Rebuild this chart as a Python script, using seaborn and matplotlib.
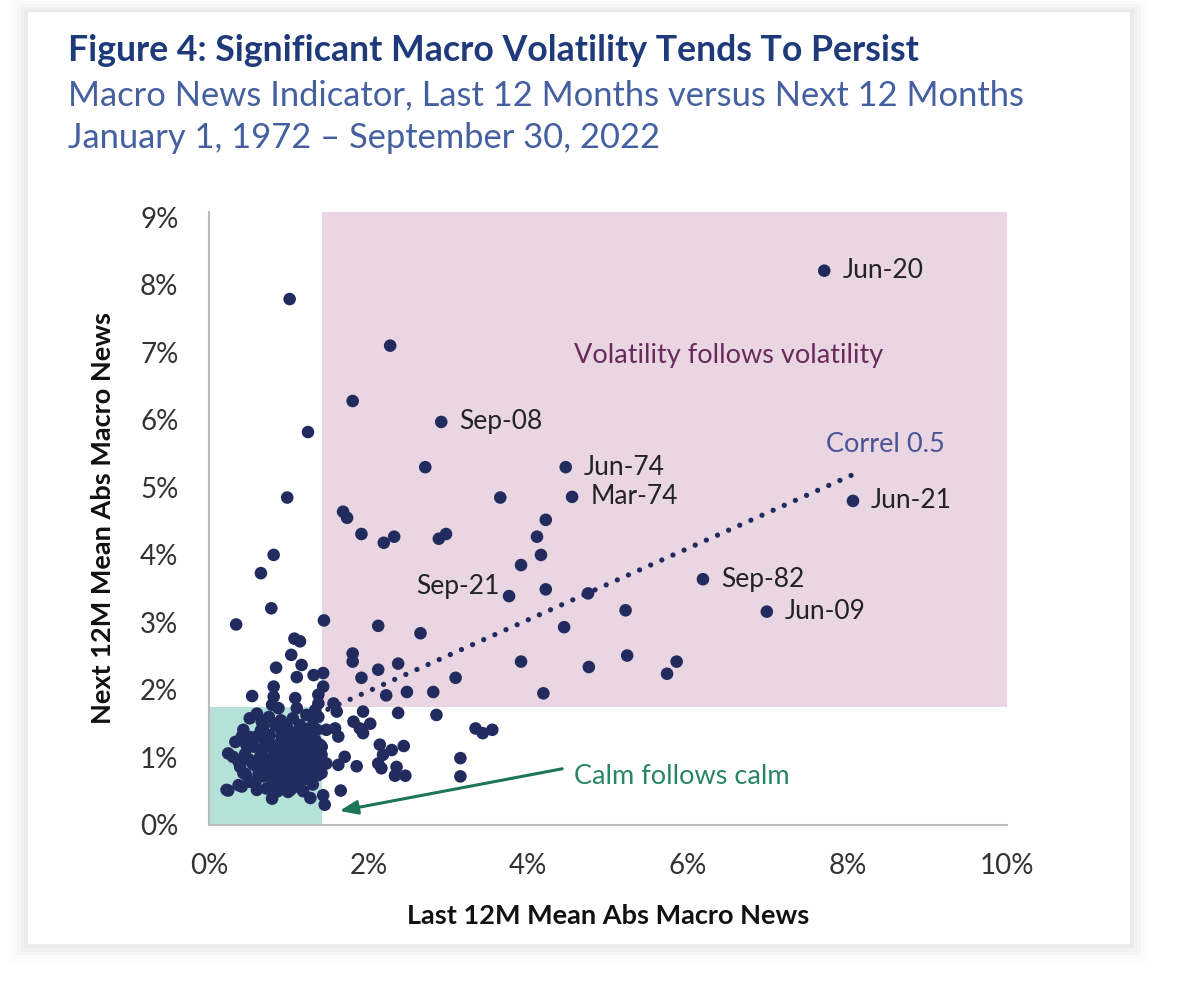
import matplotlib
matplotlib.use("Agg")
import matplotlib.pyplot as plt
import seaborn as sns
from matplotlib.patches import Rectangle, FancyBboxPatch

# last 12M vs next 12M mean abs macro news (%)
last_12m = [
    7.71, 2.91, 4.47, 4.55, 8.07, 6.19, 6.99, 3.76,
    1.01, 2.27, 1.80, 1.24, 2.71, 0.98, 3.65, 1.68, 1.73, 1.91, 2.19, 2.32,
    2.88, 2.97, 0.81, 0.65, 3.91, 0.78, 0.34, 1.44, 2.12,
    4.22, 4.11, 4.16, 4.22, 4.75, 5.22, 4.45, 2.65, 1.80, 1.80, 1.91, 2.12,
    2.37, 3.09, 3.91, 4.76, 5.24, 5.86, 5.74, 2.22, 2.48, 2.81, 4.19,
    3.34, 3.43, 3.55, 3.15, 3.15,
    1.43, 1.43, 1.56, 1.60, 1.93, 2.37, 2.85,
    1.47, 1.58, 1.62, 1.81, 1.89, 2.02, 1.93,
    1.41, 1.41, 2.14, 2.18, 2.29, 2.44, 2.12, 2.35, 2.46, 2.33, 2.16,
    1.70, 1.62, 1.85, 1.47, 1.41, 1.65, 1.43, 1.45,
    1.07, 1.14, 1.03, 1.16, 0.84, 1.10, 1.31, 0.81, 0.81, 0.54, 1.08, 1.10,
    1.37, 0.79, 0.87, 1.33, 1.37, 1.37, 1.22,
    0.60, 0.51, 0.66, 0.43, 0.33, 0.24, 0.30, 0.39, 0.43, 0.37, 0.24, 0.51,
    0.60, 0.79, 0.72, 1.02, 1.10, 1.27, 0.41, 0.99, 0.37, 0.49, 0.41, 1.39,
    1.37, 1.41, 0.95, 1.16, 0.83,
    0.68, 0.83, 0.97, 1.14, 1.31, 1.35, 1.22,
    0.60, 0.76, 0.91, 1.06, 1.18, 1.33, 1.41,
    0.56, 0.70, 0.85, 0.99, 1.14, 1.27, 1.39,
    0.64, 0.79, 0.93, 1.08, 1.22, 1.35,
    0.60, 0.72, 0.85, 0.97, 1.10, 1.22, 1.37,
    0.68, 0.83, 0.95, 1.08, 1.14, 0.89, 1.33,
    0.75, 0.88, 1.02, 1.15, 0.66, 0.82, 0.95, 1.05, 1.20, 0.72, 0.88, 1.02,
    1.15, 1.28, 0.78, 0.92, 1.04, 1.16, 0.80, 1.00, 1.25, 0.47, 0.50, 0.46,
    0.65, 1.00, 1.28, 0.90, 0.75, 1.05, 0.22,
    0.45, 0.55, 0.52, 0.62, 0.70, 0.90, 1.12, 1.25, 1.30, 0.58, 0.86, 1.18,
]
next_12m = [
    8.21, 5.97, 5.30, 4.86, 4.80, 3.64, 3.16, 3.39,
    7.79, 7.10, 6.28, 5.82, 5.30, 4.85, 4.85, 4.64, 4.55, 4.31, 4.18, 4.27,
    4.24, 4.31, 4.00, 3.73, 3.85, 3.21, 2.97, 3.03, 2.95,
    4.52, 4.27, 4.00, 3.49, 3.43, 3.18, 2.93, 2.84, 2.54, 2.42, 2.18, 2.30,
    2.39, 2.18, 2.42, 2.34, 2.51, 2.42, 2.24, 1.92, 1.97, 1.97, 1.95,
    1.43, 1.36, 1.41, 0.99, 0.72,
    2.25, 2.05, 1.80, 1.68, 1.68, 1.66, 1.63,
    1.41, 1.43, 1.31, 1.53, 1.43, 1.50, 1.36,
    1.16, 1.04, 1.19, 1.04, 1.11, 1.17, 0.91, 0.86, 0.73, 0.73, 0.84,
    1.01, 0.89, 0.87, 0.91, 0.77, 0.51, 0.44, 0.30,
    2.76, 2.72, 2.52, 2.37, 2.33, 2.19, 2.22, 2.05, 1.90, 1.91, 1.88, 1.73,
    1.93, 1.78, 1.73, 1.70, 1.60, 1.80, 1.63,
    1.65, 1.58, 1.53, 1.41, 1.23, 1.06, 1.01, 0.86, 0.77, 0.59, 0.51, 0.64,
    0.52, 0.39, 0.54, 0.52, 0.57, 0.40, 0.57, 0.49, 0.94, 1.19, 1.31, 1.19,
    1.04, 0.91, 0.79, 0.77, 0.67,
    1.46, 1.48, 1.46, 1.48, 1.56, 1.41, 1.36,
    1.31, 1.33, 1.31, 1.36, 1.26, 1.26, 1.16,
    1.16, 1.16, 1.14, 1.16, 1.14, 1.11, 1.01,
    1.01, 0.99, 1.01, 0.99, 0.96, 0.89,
    0.86, 0.84, 0.86, 0.82, 0.86, 0.79, 0.74,
    0.72, 0.69, 0.67, 0.72, 0.62, 0.57, 0.82,
    1.22, 1.20, 1.25, 1.30, 1.08, 1.06, 1.08, 1.05, 1.05, 0.93, 0.92, 0.92,
    0.93, 0.95, 0.78, 0.76, 0.78, 0.80, 0.62, 0.60, 0.68, 1.18, 0.97, 0.75,
    1.40, 1.40, 1.45, 1.55, 1.60, 1.58, 0.52,
    1.05, 0.90, 1.30, 0.75, 1.25, 1.42, 1.20, 1.18, 0.60, 0.62, 0.50, 0.50,
]

# labelled periods
label_names = ["Jun-20", "Sep-08", "Jun-74", "Mar-74", "Jun-21", "Sep-82", "Jun-09", "Sep-21"]
label_x = [7.71, 2.91, 4.47, 4.55, 8.07, 6.19, 6.99, 3.76]
label_y = [8.21, 5.97, 5.30, 4.86, 4.80, 3.64, 3.16, 3.39]

# correlation trend line end points
trend_x = [1.35, 8.07]
trend_y = [1.64, 5.19]

# calm zone limits (pink zone is everything above/right of it)
calm_x = 1.42
calm_y = 1.75

x_ticks = [0, 2, 4, 6, 8, 10]
y_ticks = [0, 1, 2, 3, 4, 5, 6, 7, 8, 9]

navy = "#222B5E"
pink = "#E9D6E2"
mint = "#B4E1D8"
title_blue = "#1E3A7B"
sub_blue = "#4560A0"

sns.set_theme(style="white")
plt.rcParams["font.family"] = ["Lato", "DejaVu Sans"]

fig = plt.figure(figsize=(11.79, 9.84), dpi=100)
fig.patch.set_facecolor("white")

# card with soft shadow
for i, a in enumerate([0.025, 0.02, 0.015, 0.01, 0.008]):
    pad = 0.003 * (i + 1)
    fig.patches.append(FancyBboxPatch((0.0237 - pad, 0.0407 - pad * 1.3), 0.9348 + 2 * pad, 0.947 + 2 * pad * 1.1,
                                      boxstyle="square,pad=0", transform=fig.transFigure,
                                      facecolor="black", edgecolor="none", alpha=a, zorder=0))
fig.patches.append(Rectangle((0.0237, 0.0407), 0.9348, 0.947, transform=fig.transFigure,
                             facecolor="white", edgecolor="none", zorder=1))

ax = fig.add_axes([0.1773, 0.1616, 0.6768, 0.623])
ax.set_facecolor("none")
ax.set_zorder(2)

ax.set_xlim(0, 10)
ax.set_ylim(0, 9.08)

ax.add_patch(Rectangle((calm_x, calm_y), 10 - calm_x, 9.08 - calm_y, facecolor=pink, edgecolor="none", zorder=0))
ax.add_patch(Rectangle((0, 0), calm_x, calm_y, facecolor=mint, edgecolor="none", zorder=0))

ax.plot(trend_x, trend_y, color=navy, lw=3.8, linestyle=(0, (0.01, 2.3)),
        dash_capstyle="round", zorder=2)

sns.scatterplot(x=last_12m, y=next_12m, ax=ax, color=navy, s=82, edgecolor="none",
                linewidth=0, zorder=3)

for name, lx, ly in zip(label_names, label_x, label_y):
    if name == "Sep-21":
        ax.annotate(name, (lx, ly), xytext=(-7, 7), textcoords="offset points",
                    ha="right", va="center", fontsize=19, color="#222222")
    else:
        ax.annotate(name, (lx, ly), xytext=(13, 0), textcoords="offset points",
                    ha="left", va="center", fontsize=19, color="#222222")

ax.text(4.57, 6.95, "Volatility follows volatility", fontsize=19.5, color="#6B2A5C", ha="left", va="center")
ax.text(7.73, 5.63, "Correl 0.5", fontsize=19.5, color="#4A5494", ha="left", va="center")
ax.text(4.57, 0.72, "Calm follows calm", fontsize=19.5, color="#2A8468", ha="left", va="center")
ax.annotate("", xy=(1.6, 0.2), xytext=(4.46, 0.84),
            arrowprops=dict(arrowstyle="-|>,head_length=0.9,head_width=0.35", color="#1E7558", lw=2.2))

ax.set_xticks(x_ticks)
ax.set_xticklabels([f"{t}%" for t in x_ticks])
ax.set_yticks(y_ticks)
ax.set_yticklabels([f"{t}%" for t in y_ticks])
ax.tick_params(axis="both", length=0, labelsize=20, colors="#333333")
ax.tick_params(axis="x", pad=20)
ax.tick_params(axis="y", pad=22)

for s in ["top", "right"]:
    ax.spines[s].set_visible(False)
for s in ["left", "bottom"]:
    ax.spines[s].set_color("#BBBBBB")
    ax.spines[s].set_linewidth(1.5)

ax.set_xlabel("Last 12M Mean Abs Macro News", fontsize=19.5, fontweight="bold", color="#111111", labelpad=18)
ax.set_ylabel("Next 12M Mean Abs Macro News", fontsize=19.5, fontweight="bold", color="#111111", labelpad=18)

fig.text(0.0577, 0.949, "Figure 4: Significant Macro Volatility Tends To Persist", fontsize=25.7,
         fontweight="bold", color=title_blue, ha="left", va="center")
fig.text(0.0577, 0.903, "Macro News Indicator, Last 12 Months versus Next 12 Months", fontsize=24.8,
         fontweight="normal", color=sub_blue, ha="left", va="center")
fig.text(0.0577, 0.860, "January 1, 1972 \u2013 September 30, 2022", fontsize=24.8,
         fontweight="normal", color=sub_blue, ha="left", va="center")

fig.savefig("out.png", dpi=100, facecolor=fig.get_facecolor())
